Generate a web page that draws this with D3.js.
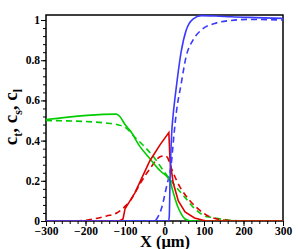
<!DOCTYPE html>
<html>
<head>
<meta charset="utf-8">
<script src="https://cdn.jsdelivr.net/npm/d3@7"></script>
<style>
  body { margin: 0; background: #fff; }
</style>
</head>
<body>
<div class="container"></div>
<script>
// values, X in microns, concentrations unitless
var blueSolidX = [-300, 10, 12, 14, 18, 22, 27, 32, 42, 55, 72, 93, 130, 169, 230, 300];
var blueSolidY = [0, 0, 0.02, 0.2, 0.43, 0.53, 0.62, 0.7, 0.84, 0.95, 1.005, 1.022, 1.02, 1.016, 1.012, 1.008];

var blueDashX = [-300, -25, -20, -7, 5, 18, 24, 30, 42, 55, 72, 93, 127, 169, 211, 300];
var blueDashY = [0, 0, 0.01, 0.067, 0.17, 0.3, 0.43, 0.54, 0.68, 0.82, 0.9, 0.95, 0.983, 0.998, 1.003, 1.0];

var redSolidX = [-300, -115, -105, -100, -75, -37, -11, 11, 14, 22, 35, 52, 76, 105, 300];
var redSolidY = [0, 0, 0.01, 0.06, 0.14, 0.30, 0.38, 0.44, 0.30, 0.19, 0.10, 0.045, 0.015, 0, 0];

var redDashX = [-300, -226, -180, -146, -121, -96, -87, -62, -37, -11, 1, 8, 14, 22, 39, 65, 98, 110, 160, 200, 300];
var redDashY = [0, 0, 0.01, 0.025, 0.04, 0.08, 0.1, 0.185, 0.26, 0.32, 0.325, 0.315, 0.28, 0.24, 0.17, 0.1, 0.04, 0.025, 0.003, 0, 0];

var greenSolidX = [-300, -122, -113, -100, -87, -62, -37, -11, 9, 14, 21, 27, 34, 41, 52, 70, 300];
var greenSolidY = [0.505, 0.532, 0.52, 0.48, 0.45, 0.37, 0.31, 0.25, 0.215, 0.2, 0.15, 0.11, 0.07, 0.04, 0.01, 0, 0];

var greenDashX = [-300, -200, -150, -121, -100, -75, -49, -24, 1, 27, 52, 77, 102, 118, 160, 200, 300];
var greenDashY = [0.5, 0.495, 0.488, 0.48, 0.467, 0.417, 0.367, 0.31, 0.24, 0.175, 0.117, 0.06, 0.025, 0.018, 0.005, 0, 0];

var xTicks = [-300, -200, -100, 0, 100, 200, 300];
var yTicks = [0, 0.2, 0.4, 0.6, 0.8, 1];
var yTickLabels = ["0", "0.2", "0.4", "0.6", "0.8", "1"];

var serif = "'Liberation Serif', 'DejaVu Serif', serif";
var width = 298, height = 249;
var margin = {top: 15, right: 15, bottom: 28, left: 46};

var svg = d3.select(".container").append("svg")
  .attr("width", width).attr("height", height);

var x = d3.scaleLinear().domain([-300, 300]).range([margin.left, width - margin.right]);
var y = d3.scaleLinear().domain([0, 1.025]).range([height - margin.bottom, margin.top]);

// minor ticks first, then the labelled ones on top
svg.append("g")
  .attr("transform", "translate(0," + (height - margin.bottom) + ")")
  .call(d3.axisBottom(x).tickValues(d3.range(-300, 301, 20)).tickSize(3).tickFormat(""))
  .call(function(g) { g.select(".domain").remove(); });
svg.append("g")
  .attr("transform", "translate(" + margin.left + ",0)")
  .call(d3.axisLeft(y).tickValues(d3.range(0, 1.001, 0.04)).tickSize(3).tickFormat(""))
  .call(function(g) { g.select(".domain").remove(); });

var xAxis = svg.append("g")
  .attr("transform", "translate(0," + (height - margin.bottom) + ")")
  .call(d3.axisBottom(x).tickValues(xTicks).tickSize(5).tickPadding(1).tickFormat(d3.format("d")));
xAxis.select(".domain").remove();
xAxis.selectAll("text")
  .style("font-family", serif).style("font-weight", "bold").style("font-size", "11.5px")
  .attr("fill", "#000");

var yAxis = svg.append("g")
  .attr("transform", "translate(" + margin.left + ",0)")
  .call(d3.axisLeft(y).tickValues(yTicks).tickSize(5).tickPadding(1)
    .tickFormat(function(d, i) { return yTickLabels[i]; }));
yAxis.select(".domain").remove();
yAxis.selectAll("text")
  .style("font-family", serif).style("font-weight", "bold").style("font-size", "11.5px")
  .attr("fill", "#000").attr("dy", "0.3em");

// frame
svg.append("rect")
  .attr("x", margin.left).attr("y", margin.top)
  .attr("width", width - margin.left - margin.right)
  .attr("height", height - margin.top - margin.bottom)
  .attr("fill", "none").attr("stroke", "#000").attr("stroke-width", 1.5);

svg.append("clipPath").attr("id", "plot")
  .append("rect")
  .attr("x", margin.left).attr("y", margin.top - 2)
  .attr("width", width - margin.left - margin.right)
  .attr("height", height - margin.top - margin.bottom + 2);

var series = [
  {xs: greenDashX, ys: greenDashY, color: "#00cc00", dash: "6,4", curve: d3.curveMonotoneX},
  {xs: redDashX, ys: redDashY, color: "#e00000", dash: "6,4", curve: d3.curveMonotoneX},
  {xs: blueDashX, ys: blueDashY, color: "#3a3aff", dash: "6,4", curve: d3.curveMonotoneX},
  {xs: greenSolidX, ys: greenSolidY, color: "#00cc00", dash: null, curve: d3.curveMonotoneX},
  {xs: redSolidX, ys: redSolidY, color: "#e00000", dash: null, curve: d3.curveLinear},
  {xs: blueSolidX, ys: blueSolidY, color: "#3a3aff", dash: null, curve: d3.curveMonotoneX}
];

var line = d3.line()
  .x(function(d) { return x(d[0]); })
  .y(function(d) { return y(d[1]); });

svg.append("g").attr("clip-path", "url(#plot)")
  .selectAll("path")
  .data(series)
  .enter().append("path")
  .attr("d", function(s) { return line.curve(s.curve)(d3.zip(s.xs, s.ys)); })
  .attr("fill", "none")
  .attr("stroke", function(s) { return s.color; })
  .attr("stroke-width", 1.6)
  .attr("stroke-dasharray", function(s) { return s.dash; });

// axis titles
svg.append("text")
  .attr("x", 165).attr("y", 246.5)
  .attr("text-anchor", "middle")
  .style("font-family", serif).style("font-weight", "bold").style("font-size", "16.5px")
  .text("X (\u03bcm)");

var yl = svg.append("text")
  .attr("transform", "translate(17,117) rotate(-90)")
  .attr("text-anchor", "middle")
  .style("font-family", serif).style("font-weight", "bold").style("font-size", "19px");
yl.append("tspan").text("c");
yl.append("tspan").attr("dy", 5).style("font-size", "12px").text("t");
yl.append("tspan").attr("dy", -5).text(", c");
yl.append("tspan").attr("dy", 5).style("font-size", "12px").text("s");
yl.append("tspan").attr("dy", -5).text(", c");
yl.append("tspan").attr("dy", 5).style("font-size", "12px").text("l");
</script>
</body>
</html>
